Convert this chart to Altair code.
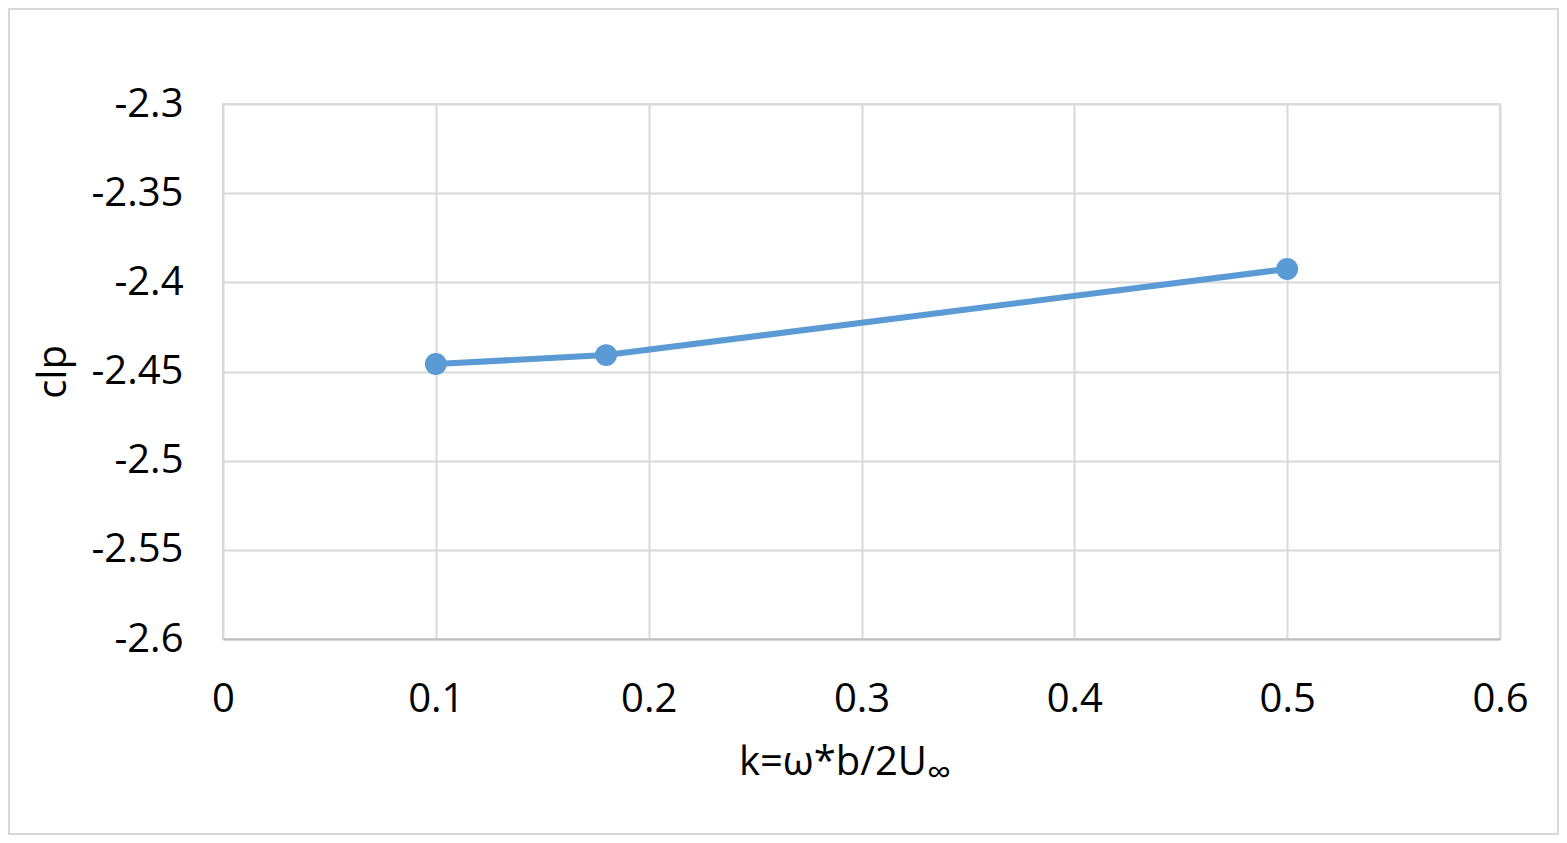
import altair as alt
import pandas as pd

# Data
k_values = [0.1, 0.18, 0.5]
clp_values = [-2.4458, -2.4408, -2.3925]
x_ticks = [0, 0.1, 0.2, 0.3, 0.4, 0.5, 0.6]
y_ticks = [-2.3, -2.35, -2.4, -2.45, -2.5, -2.55, -2.6]

df = pd.DataFrame({"k": k_values, "clp": clp_values})
one = pd.DataFrame({"a": [0]})

FONT = "Open Sans"
W, H = 1277, 535
BLUE = "#5b9bd5"

x_enc = alt.X("k:Q", scale=alt.Scale(domain=[0, 0.6], nice=False),
              axis=alt.Axis(values=x_ticks, format="~g", title=None,
                            labelPadding=40, labelFlush=False, grid=True))
y_enc = alt.Y("clp:Q", scale=alt.Scale(domain=[-2.6, -2.3], nice=False, zero=False),
              axis=alt.Axis(values=y_ticks, title="clp", titlePadding=18,
                            labelExpr="replace(format(datum.value, '.2~f'), '\u2212', '-')",
                            labelPadding=40, labelFlush=False, grid=True))

line = alt.Chart(df).mark_line(color=BLUE, strokeWidth=6).encode(x=x_enc, y=y_enc)
points = alt.Chart(df).mark_point(filled=True, color=BLUE, size=480, opacity=1).encode(x="k:Q", y="clp:Q")

title_main = alt.Chart(one).mark_text(
    text="k=\u03c9*b/2U", font=FONT, fontSize=40, align="right", baseline="alphabetic", color="#000000"
).encode(x=alt.value(704), y=alt.value(671))
title_sub = alt.Chart(one).mark_text(
    text="\u221e", font=FONT, fontSize=34, align="left", baseline="alphabetic", color="#000000"
).encode(x=alt.value(704), y=alt.value(680))

border = alt.Chart(one).mark_rect(fill=None, stroke="#d9d9d9", strokeWidth=2).encode(
    x=alt.value(-214), x2=alt.value(W + 58), y=alt.value(-95), y2=alt.value(H + 195)
)

chart = alt.layer(border, line, points, title_main, title_sub).properties(
    width=W, height=H,
    padding={"left": 215, "top": 96, "right": 59, "bottom": 196},
    autosize="none",
).configure_view(stroke="#d9d9d9", strokeWidth=2).configure_axis(
    labelFont=FONT, labelFontSize=40, labelColor="#000000",
    titleFont=FONT, titleFontSize=40, titleColor="#000000", titleFontWeight="normal",
    gridColor="#d9d9d9", gridWidth=2, domainColor="#bfbfbf", domainWidth=2,
    ticks=False,
).configure_axisY(domain=False)

chart.save("out.html", embed_options={"renderer": "svg", "actions": False})
